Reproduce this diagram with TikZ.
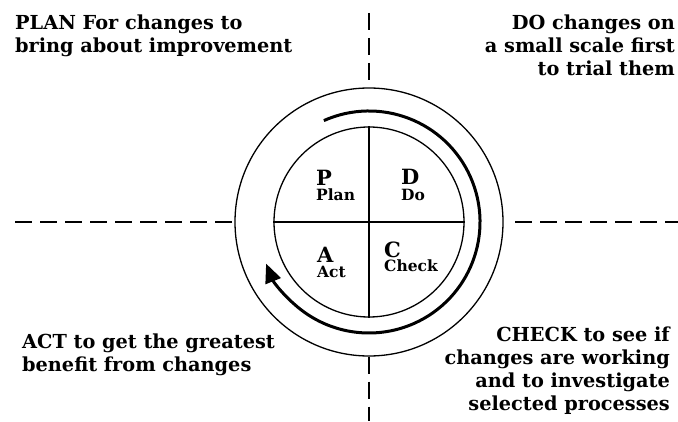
\documentclass[tikz,border=0pt]{standalone}
\usepackage{fontspec}
\setmainfont{DejaVu Serif}
\usepackage{xcolor}
\usetikzlibrary{arrows.meta, calc}

\begin{document}
\begin{tikzpicture}[x=1pt, y=1pt,
		note/.style={inner sep=0pt, font=\fontsize{19.3}{23}\selectfont\bfseries},
		letter/.style={inner sep=0pt, anchor=base west, font=\fontsize{21}{21}\selectfont\bfseries},
		word/.style={inner sep=0pt, anchor=base west, font=\fontsize{15.5}{16}\selectfont\bfseries},
		ring/.style={circle, draw, line width=1.3pt, inner sep=0pt},
		axis/.style={line width=1.6pt, dash pattern=on 17pt off 8pt}]
				\useasboundingbox (0,0) rectangle (678,421);
				\coordinate (c) at (369,199);
				
				\node[ring, minimum size=268pt] (outer) at (c) {};
				\node[ring, minimum size=190pt] (inner) at (c) {};
				\draw[line width=1.3pt] (inner.north) -- (inner.south);
				\draw[line width=1.3pt] (inner.west) -- (inner.east);
				
				% dashed axes
				\coordinate (axl) at (15,199);
				\coordinate (axr) at (678,199);
				\coordinate (axrs) at (515,199);
				\coordinate (axt) at (369,408);
				\coordinate (axts) at (369,338);
				\coordinate (axb) at (369,0);
				\draw[axis] (axl) -- (outer.west);
				\draw[axis] (axrs) -- (axr);
				\draw[axis] (axt) -- (axts);
				\draw[axis] (outer.south) -- (axb);
				
				% cycle arrow
				\draw[line width=3pt, -{Triangle[length=19pt, width=16pt]}] ($(c)+(114:111)$) arc[start angle=114, end angle=-158, radius=111];
				
				\node[letter] (p) at (316,235) {P};
				\node[word] (plan) at (316,220) {Plan};
				\node[letter] (d) at (401,236) {D};
				\node[word] (do) at (401,220) {Do};
				\node[letter] (a) at (317,158) {A};
				\node[word] (act) at (317,143) {Act};
				\node[letter] (ch) at (384,164) {C};
				\node[word] (check) at (384,149) {Check};
				
				\node[note, anchor=north west, align=left] (plannote) at (15,406) {PLAN For changes to\\bring about improvement};
				\node[note, anchor=north east, align=right] (donote) at (675,406) {DO changes on\\a small scale first\\to trial them};
				\node[note, anchor=north west, align=left] (actnote) at (22,87) {ACT to get the greatest\\benefit from changes};
				\node[note, anchor=north east, align=right] (checknote) at (670,94) {CHECK to see if\\changes are working\\and to investigate\\selected processes};
			\end{tikzpicture}
\end{document}
